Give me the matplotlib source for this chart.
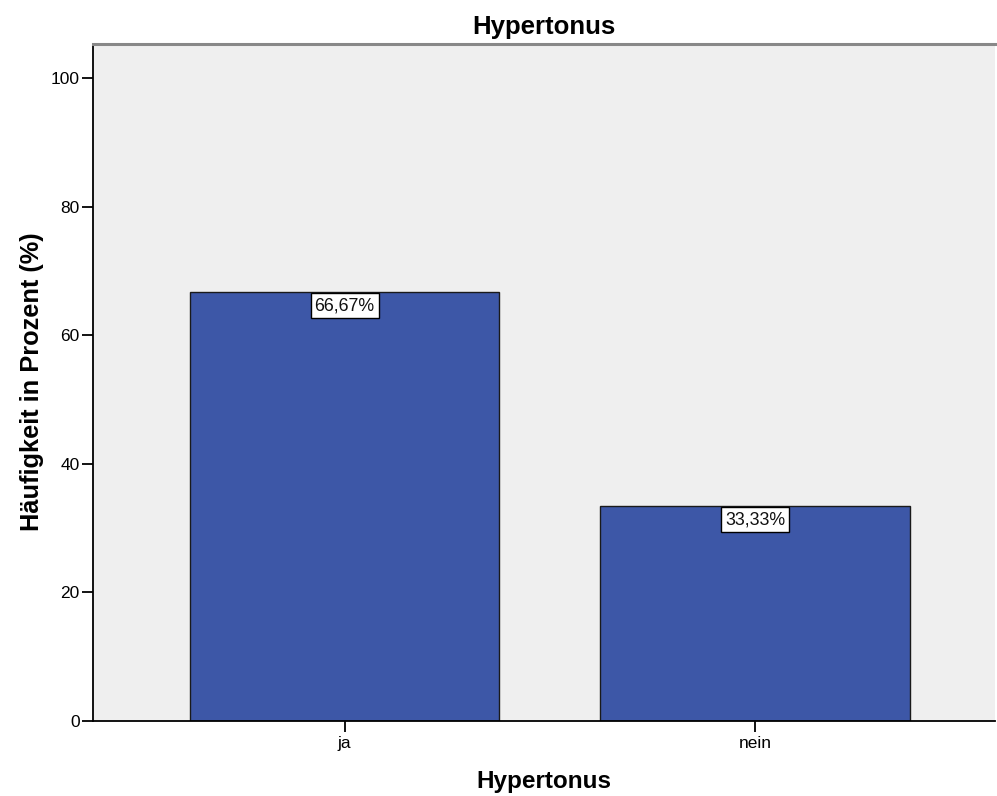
import numpy as np
import matplotlib.pyplot as plt

plt.rcParams['font.family'] = ['Liberation Sans', 'DejaVu Sans']

# Daten
kategorien = ['ja', 'nein']
prozent = [66.67, 33.33]
beschriftung = ['66,67%', '33,33%']

fig = plt.figure(figsize=(9.97, 7.96), dpi=100)
ax = fig.add_axes([0.0933, 0.0948, 0.905, 0.8505])
ax.set_facecolor('#efefef')

x = np.arange(len(kategorien))
balken = ax.bar(x, prozent, width=0.754, color='#3d57a7', edgecolor='#1a1a1a', linewidth=1.0, zorder=2)

# Beschriftungen in weißen Kästchen am oberen Balkenrand
for b, txt in zip(balken, beschriftung):
    ax.annotate(txt, (b.get_x() + b.get_width() / 2, b.get_height()),
                xytext=(0, -3.5), textcoords='offset points',
                ha='center', va='top', fontsize=12.8, color='#111111',
                bbox=dict(boxstyle='square,pad=0.22', fc='white', ec='black', lw=1.0),
                zorder=3)

ax.set_xlim(-0.613, 1.585)
ax.set_ylim(0, 105.4)
ax.set_xticks(x)
ax.set_xticklabels(kategorien)
ax.set_yticks([0, 20, 40, 60, 80, 100])

ax.tick_params(axis='y', length=8, width=1.3, pad=1.5, labelsize=12.5)
ax.tick_params(axis='x', length=8, width=1.3, pad=3, labelsize=12.5)

for s in ['left', 'bottom']:
    ax.spines[s].set_color('black')
    ax.spines[s].set_linewidth(1.3)
ax.spines['top'].set_color('#888888')
ax.spines['top'].set_linewidth(2.2)
ax.spines['right'].set_visible(False)

ax.set_title('Hypertonus', fontsize=18.5, fontweight='bold', pad=7)
ax.set_xlabel('Hypertonus', fontsize=17.5, fontweight='bold', labelpad=14)
ax.set_ylabel('Häufigkeit in Prozent (%)', fontsize=18.3, fontweight='bold', labelpad=5)

plt.savefig('out.png', dpi=100)
